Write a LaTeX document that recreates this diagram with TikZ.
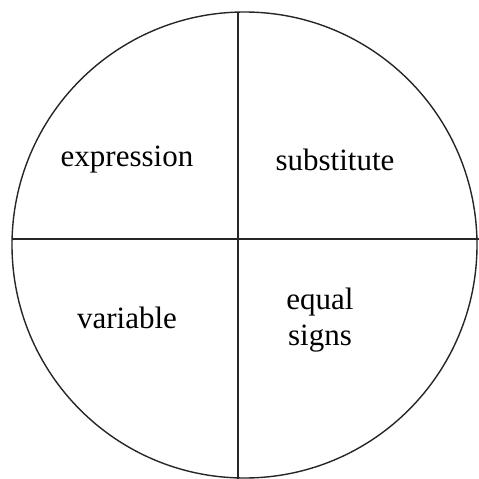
\documentclass[tikz,border=0pt]{standalone}
\usepackage{fontspec}
\setmainfont{Liberation Serif}
\begin{document}
\begin{tikzpicture}[x=1pt,y=-1pt,
  lbl/.style={font=\fontsize{31}{36}\selectfont, align=center, inner sep=0pt},
  divline/.style={line width=2.4pt, draw=black!85},
  rim/.style={line width=1.4pt, draw=black!85}]
\useasboundingbox (0,0) rectangle (479,479);
\begin{scope}
\clip (0,0) rectangle (479,479);
\draw[rim] (244.5,245) ellipse [x radius=232.5, y radius=233];
\coordinate (top) at (238,12);
\coordinate (bot) at (238,479);
\coordinate (lft) at (12,239);
\coordinate (rgt) at (479,239);
\draw[divline] (top) -- (bot);
\draw[divline] (lft) -- (rgt);
\end{scope}
\node[lbl] (expr) at (127,160) {expression};
\node[lbl] (subs) at (335,160) {substitute};
\node[lbl] (vari) at (127,318) {variable};
\node[lbl] (eqs) at (320,320) {equal\\[0pt]signs};
\end{tikzpicture}
\end{document}
